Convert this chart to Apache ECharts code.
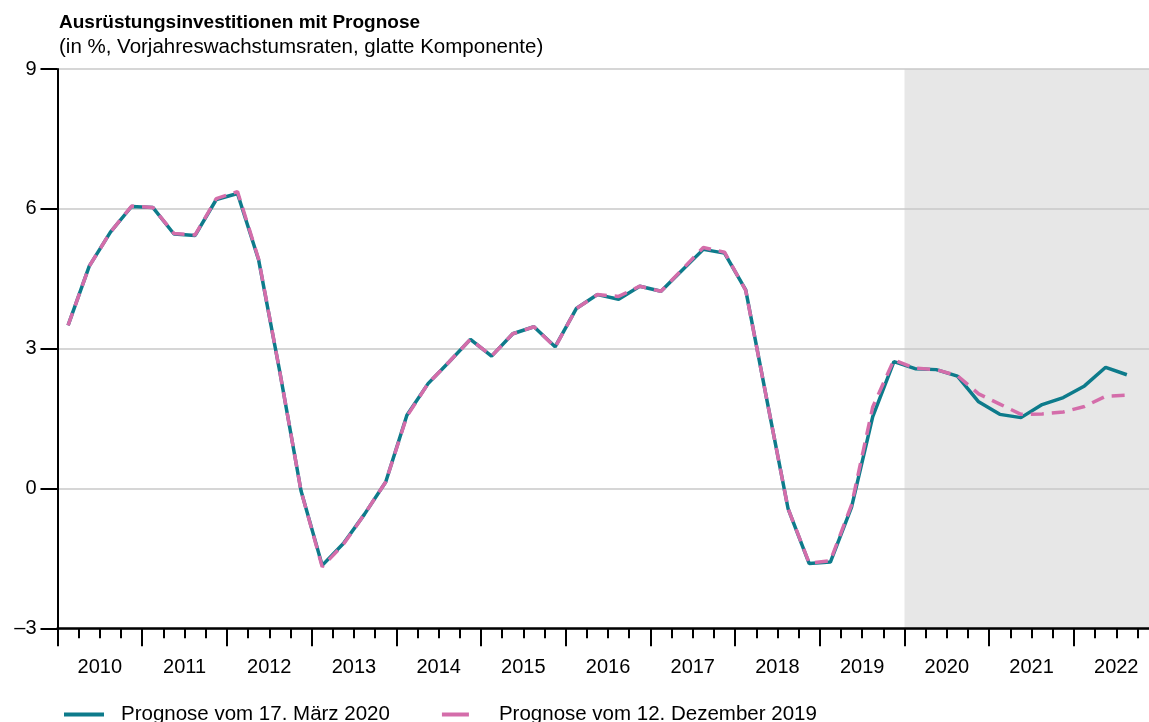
<!DOCTYPE html>
<html>
<head>
<meta charset="utf-8">
<script src="https://cdn.jsdelivr.net/npm/echarts@6/dist/echarts.min.js"></script>
<style>
  html, body { margin: 0; padding: 0; background: #fff; }
  #chart { width: 1149px; height: 722px; }
</style>
</head>
<body>
<div id="chart"></div>
<script>
const years = ['2010', '2011', '2012', '2013', '2014', '2015', '2016', '2017', '2018', '2019', '2020', '2021', '2022']
const quarters = ['Q1', 'Q2', 'Q3', 'Q4']

// Prognose vom 17. März 2020 (2010Q1 .. 2022Q3)
const prognoseMaerz2020 = [
  3.5, 4.77, 5.5, 6.05,
  6.03, 5.46, 5.43, 6.2,
  6.33, 4.9, 2.5, -0.05,
  -1.65, -1.18, -0.55, 0.14,
  1.57, 2.25, 2.72, 3.2,
  2.84, 3.32, 3.47, 3.04,
  3.86, 4.16, 4.06, 4.34,
  4.23, 4.68, 5.13, 5.05,
  4.26, 1.9, -0.43, -1.61,
  -1.58, -0.4, 1.54, 2.72,
  2.57, 2.55, 2.41, 1.86,
  1.59, 1.52, 1.8, 1.95,
  2.2, 2.6, 2.44
]
// Prognose vom 12. Dezember 2019 (2010Q1 .. 2022Q3)
const prognoseDez2019 = [
  3.5, 4.77, 5.5, 6.06,
  6.03, 5.47, 5.44, 6.22,
  6.37, 4.92, 2.5, -0.05,
  -1.68, -1.2, -0.55, 0.14,
  1.55, 2.25, 2.72, 3.2,
  2.84, 3.32, 3.47, 3.03,
  3.86, 4.16, 4.12, 4.34,
  4.23, 4.7, 5.17, 5.07,
  4.25, 1.9, -0.43, -1.6,
  -1.55, -0.35, 1.75, 2.76,
  2.58, 2.55, 2.42, 2.03,
  1.81, 1.59, 1.6, 1.64,
  1.76, 1.98, 2.0
]
const forecastStart = 2020
const axisEnd = 2023

const fontFamily = '"Liberation Sans", Arial, Helvetica, sans-serif'
const teal = '#0d7b8b'
const pink = '#d46daa'

// quarter -> decimal year at the middle of the quarter
const toPoints = (values) =>
  values.map((v, i) => [Number(years[0]) + Math.floor(i / 4) + (i % 4 + 0.5) / quarters.length, v])

const chart = echarts.init(document.getElementById('chart'), null, { renderer: 'canvas' })

chart.setOption({
  animation: false,
  backgroundColor: '#fff',
  textStyle: { fontFamily: fontFamily },
  title: [
    {
      text: 'Ausrüstungsinvestitionen mit Prognose',
      left: 59,
      top: 13,
      padding: 0,
      textStyle: { fontFamily: fontFamily, fontSize: 19, fontWeight: 'bold', color: '#000' }
    },
    {
      text: '(in %, Vorjahreswachstumsraten, glatte Komponente)',
      left: 59,
      top: 37,
      padding: 0,
      textStyle: { fontFamily: fontFamily, fontSize: 20.5, fontWeight: 'normal', color: '#000' }
    }
  ],
  legend: {
    left: 62,
    top: 704,
    padding: 0,
    itemWidth: 40,
    itemHeight: 14,
    itemGap: 50,
    itemStyle: { opacity: 0 },
    textStyle: { fontFamily: fontFamily, fontSize: 20.5, color: '#000', padding: [0, 0, 0, 12] },
    data: [
      { name: 'Prognose vom 17. März 2020', lineStyle: { width: 4, type: 'solid' } },
      { name: 'Prognose vom 12. Dezember 2019', lineStyle: { width: 4, type: [27, 20] } }
    ]
  },
  grid: {
    left: 57.5,
    top: 69,
    right: 1149 - 1158.6,
    bottom: 722 - 628.3,
    containLabel: false,
    outerBoundsMode: 'none'
  },
  xAxis: [
    {
      type: 'value',
      z: 5,
      min: Number(years[0]),
      max: axisEnd,
      interval: 1,
      axisLine: { show: true, onZero: false, lineStyle: { color: '#000', width: 2.5 } },
      axisTick: { show: true, length: 18, lineStyle: { color: '#000', width: 2 } },
      minorTick: { show: true, splitNumber: 4, length: 10, lineStyle: { color: '#000', width: 2 } },
      axisLabel: { show: false },
      splitLine: { show: false }
    },
    {
      type: 'category',
      position: 'bottom',
      data: years,
      boundaryGap: true,
      axisLine: { show: false },
      axisTick: { show: false },
      splitLine: { show: false },
      axisLabel: { interval: 0, margin: 29, fontSize: 20, color: '#000', fontFamily: fontFamily }
    }
  ],
  yAxis: {
    type: 'value',
    z: 5,
    min: -3,
    max: 9,
    interval: 3,
    axisLine: { show: true, lineStyle: { color: '#000', width: 2 } },
    axisTick: { show: true, length: 17, lineStyle: { color: '#000', width: 2 } },
    axisLabel: {
      margin: 21,
      fontSize: 20,
      color: '#000',
      fontFamily: fontFamily,
      formatter: (v) => (v < 0 ? '\u2013' + Math.abs(v) : String(v))
    },
    splitLine: { show: true, lineStyle: { color: '#c9c9c9', width: 1.5 } }
  },
  series: [
    {
      name: 'Prognosezeitraum',
      type: 'line',
      z: 1,
      data: [],
      silent: true,
      markArea: {
        silent: true,
        itemStyle: { color: '#e7e7e7' },
        data: [[{ xAxis: forecastStart }, { xAxis: axisEnd }]]
      }
    },
    {
      name: 'Prognose vom 17. März 2020',
      type: 'line',
      xAxisIndex: 0,
      data: toPoints(prognoseMaerz2020),
      symbol: 'none',
      lineStyle: { color: teal, width: 3.5 },
      itemStyle: { color: teal },
      z: 6
    },
    {
      name: 'Prognose vom 12. Dezember 2019',
      type: 'line',
      xAxisIndex: 0,
      data: toPoints(prognoseDez2019),
      symbol: 'none',
      lineStyle: { color: pink, width: 3.5, type: [13, 8] },
      itemStyle: { color: pink },
      z: 7
    }
  ]
})
</script>
</body>
</html>
